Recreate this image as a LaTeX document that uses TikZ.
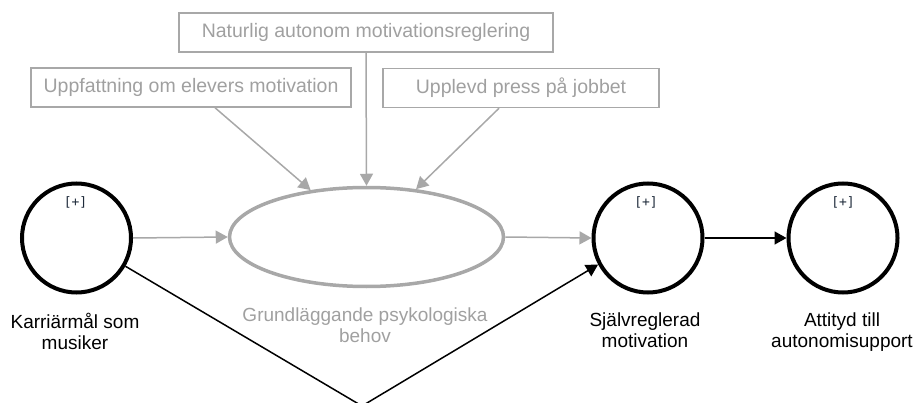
\documentclass[tikz,border=0pt]{standalone}
\usepackage{fontspec}
\setmainfont{Liberation Sans}
\newfontfamily\plusfont{DejaVu Sans Mono}
\usetikzlibrary{arrows.meta,shapes.geometric}
\definecolor{linegray}{HTML}{A8A8A8}
\definecolor{textgray}{HTML}{A0A0A0}
\definecolor{plusblue}{HTML}{1E2A3A}
\newcommand{\labelfont}{\fontsize{19}{21}\selectfont}
\newcommand{\boxfont}{\fontsize{19.5}{21}\selectfont}
\tikzset{
  latent/.style={circle, draw=black, line width=4pt, minimum size=109pt, inner sep=0pt},
  moderated/.style={ellipse, draw=linegray, line width=3.5pt, minimum width=274pt, minimum height=99pt, inner sep=0pt},
  gbox/.style={draw=linegray, line width=1.5pt, minimum height=39pt, inner sep=0pt, text=textgray, font=\boxfont},
  caption/.style={align=center, anchor=north, inner sep=0pt, font=\labelfont},
  plusmark/.style={inner sep=0pt, text=plusblue, font=\plusfont\fontsize{13}{13}\selectfont},
  garrow/.style={draw=linegray, line width=1.5pt, -{Triangle[length=12pt,width=13pt]}, linegray},
  barrow/.style={draw=black, line width=1.5pt, -{Triangle[length=12pt,width=13pt]}},
}
\begin{document}
\begin{tikzpicture}[x=1pt,y=-1pt]
\useasboundingbox (0,0) rectangle (917,403);

% moderator boxes
\node[gbox, minimum width=374pt] (nat) at (366,32.5) {Naturlig autonom motivationsreglering};
\node[gbox, minimum width=320pt] (upp) at (191,87.5) {Uppfattning om elevers motivation};
\node[gbox, minimum width=276pt] (press) at (521,88) {Upplevd press på jobbet};

% constructs
\node[latent] (kar) at (76.5,238) {};
\node[moderated] (beh) at (366.5,237) {};
\node[latent] (sjalv) at (648,238) {};
\node[latent] (att) at (843,238) {};

\node[plusmark] (p1) at (75.5,202) {[+]};
\node[plusmark] (p3) at (646,202) {[+]};
\node[plusmark] (p4) at (843,202) {[+]};

% construct names
\node[caption] (lkar) at (75,313) {Karriärmål som\\musiker};
\node[caption, text=textgray] (lbeh) at (365,307.5) {Grundläggande psykologiska\\behov};
\node[caption] (lsjalv) at (645,313) {Självreglerad\\motivation};
\node[caption] (latt) at (842,313) {Attityd till\\autonomisupport};

% paths into and out of the basic needs
\draw[garrow] ([xshift=24pt]upp.south) -- (beh.140);
\draw[garrow] (nat.south) -- (beh.north);
\draw[garrow] ([xshift=-22pt]press.south) -- (beh.44);
\draw[garrow] (kar.east) -- (beh.west);
\draw[garrow] (beh.east) -- (sjalv.west);

% direct paths
\coordinate (dip) at (362,406);
\draw[barrow] (kar.-30) -- (dip) -- (sjalv.208);
\draw[barrow] (sjalv.east) -- (att.west);
\end{tikzpicture}
\end{document}
